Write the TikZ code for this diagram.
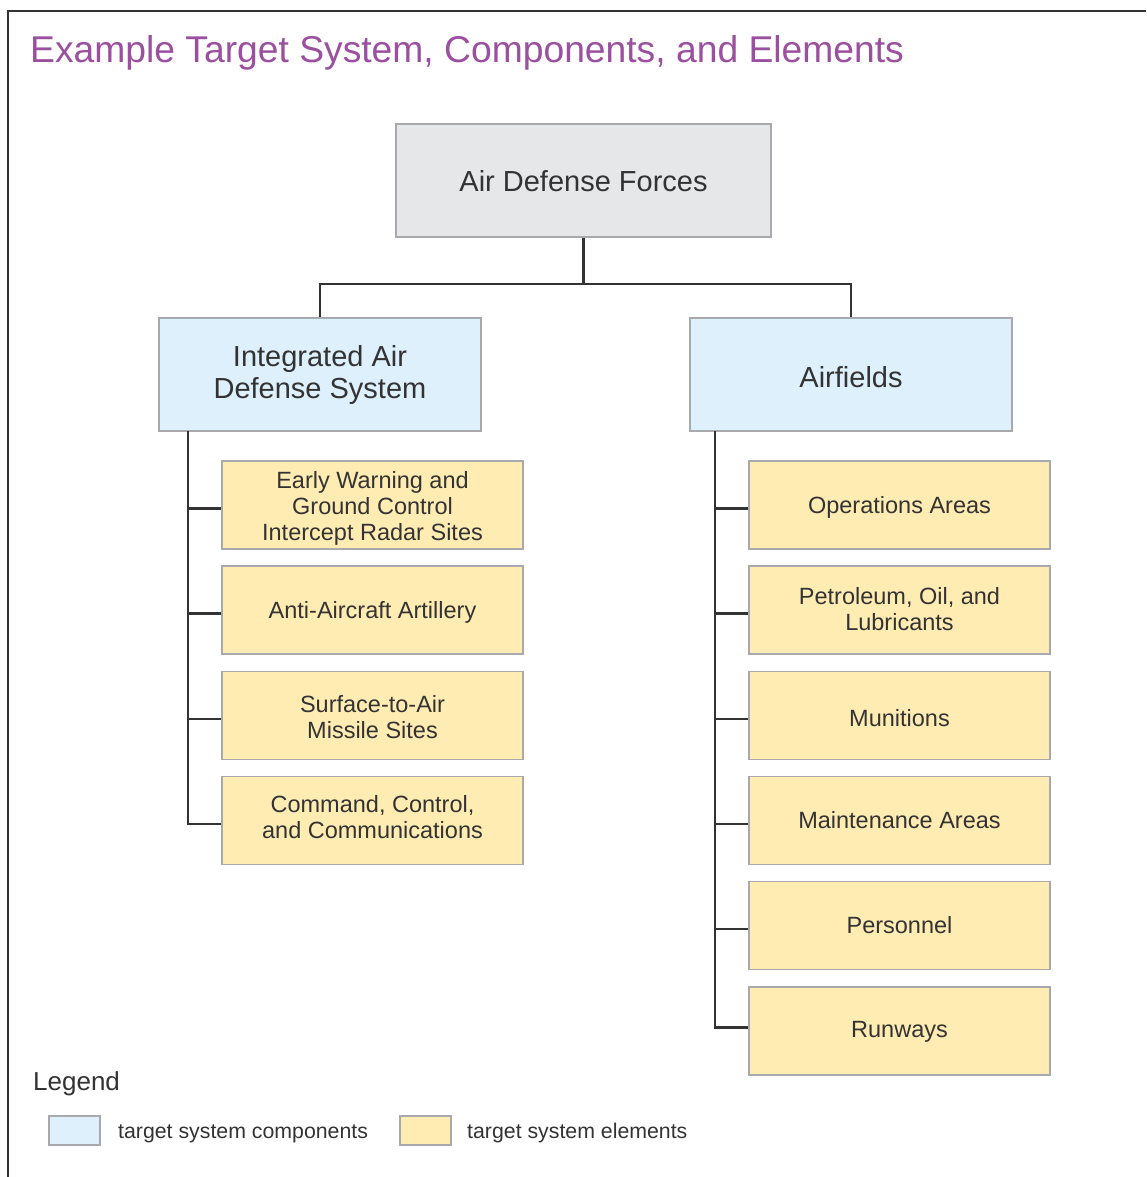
\documentclass[tikz,border=0pt]{standalone}
\usepackage{fontspec}
\setmainfont{Liberation Sans}
\definecolor{txt}{HTML}{333333}
\definecolor{linec}{HTML}{333333}
\definecolor{boxborder}{HTML}{A7A9AC}
\definecolor{topfill}{HTML}{E6E7E8}
\definecolor{compfill}{HTML}{DDF0FB}
\definecolor{elemfill}{HTML}{FFECB3}
\definecolor{titlec}{HTML}{9B4F9F}
\newcommand\lowtext[2]{\raisebox{-#1}[\height][\depth]{#2}}
\begin{document}
\begin{tikzpicture}[x=1pt,y=-1pt,
  ln/.style={draw=linec, line width=2.8pt},
  frameline/.style={draw=linec, line width=2.4pt},
  basebox/.style={draw=boxborder, line width=1.3pt, inner sep=0pt, text=txt, align=center},
  topbox/.style={basebox, fill=topfill, minimum width=375pt, minimum height=113pt, font=\fontsize{29}{32}\selectfont},
  comp/.style={basebox, fill=compfill, minimum width=322pt, minimum height=113pt, font=\fontsize{29}{32}\selectfont},
  elem/.style={basebox, fill=elemfill, minimum width=301pt, minimum height=88pt, font=\fontsize{23.5}{26}\selectfont},
  legbox/.style={basebox, minimum width=51pt, minimum height=29pt},
  legtext/.style={text=txt, inner sep=0pt, font=\fontsize{21.3}{24}\selectfont, anchor=base west}
]
\useasboundingbox (0,0) rectangle (1146,1177);
\fill[white] (0,0) rectangle (1146,1177);
% frame
\draw[frameline] (8,1177) |- (1146,11);
% title
\node[anchor=base west, inner sep=0pt, text=titlec, font=\fontsize{37.25}{40}\selectfont] (title) at (30,63) {Example Target System, Components, and Elements};

% top
\node[topbox] (adf) at (583.5,180.5) {\lowtext{1pt}{Air Defense Forces}};
\node[comp] (iads) at (320,374.5) {Integrated Air\\Defense System};
\node[comp] (af) at (851,374.5) {\lowtext{3pt}{Airfields}};
\coordinate (j) at (583.5,284);
\draw[ln] (adf.south) -- (j);
\draw[ln] (iads.north) |- (j) -| (af.north);

% left elements
\node[elem] (l1) at (372.5,505) {\lowtext{4pt}{\begin{tabular}{@{}c@{}}Early Warning and\\Ground Control\\Intercept Radar Sites\end{tabular}}};
\node[elem] (l2) at (372.5,610) {\lowtext{2pt}{Anti-Aircraft Artillery}};
\node[elem] (l3) at (372.5,715.5) {\lowtext{4.5pt}{\begin{tabular}{@{}c@{}}Surface-to-Air\\Missile Sites\end{tabular}}};
\node[elem] (l4) at (372.5,820.5) {\begin{tabular}{@{}c@{}}Command, Control,\\and Communications\end{tabular}};

% right elements
\node[elem] (r1) at (899.5,505) {\lowtext{2pt}{Operations Areas}};
\node[elem] (r2) at (899.5,610) {\lowtext{2.5pt}{\begin{tabular}{@{}c@{}}Petroleum, Oil, and\\Lubricants\end{tabular}}};
\node[elem] (r3) at (899.5,715.5) {\lowtext{3pt}{Munitions}};
\node[elem] (r4) at (899.5,820.5) {Maintenance Areas};
\node[elem] (r5) at (899.5,925.5) {Personnel};
\node[elem] (r6) at (899.5,1031) {\lowtext{1pt}{Runways}};

% spines
\coordinate (ls) at (188,431);
\coordinate (rs) at (715,431);
\foreach \n in {l1,l2,l3,l4} {\draw[ln] (\n.west) ++(0,3.5) coordinate (tmp) -- (tmp -| ls);}
\draw[ln] (l4.west) ++(0,3.5) coordinate (lend) (ls) |- (lend);
\foreach \n in {r1,r2,r3,r4,r5} {\draw[ln] (\n.west) ++(0,3.5) coordinate (tmp) -- (tmp -| rs);}
\draw[ln] (r6.west) ++(0,-3.5) coordinate (rend) (rs) |- (rend);

% legend
\node[anchor=base west, inner sep=0pt, text=txt, font=\fontsize{26}{30}\selectfont] (leg) at (33,1090) {Legend};
\node[legbox, fill=compfill] (lb1) at (74.5,1130.5) {};
\node[legtext] (lt1) at (118,1138) {target system components};
\node[legbox, fill=elemfill] (lb2) at (425.5,1130.5) {};
\node[legtext] (lt2) at (467,1138) {target system elements};
\end{tikzpicture}
\end{document}
